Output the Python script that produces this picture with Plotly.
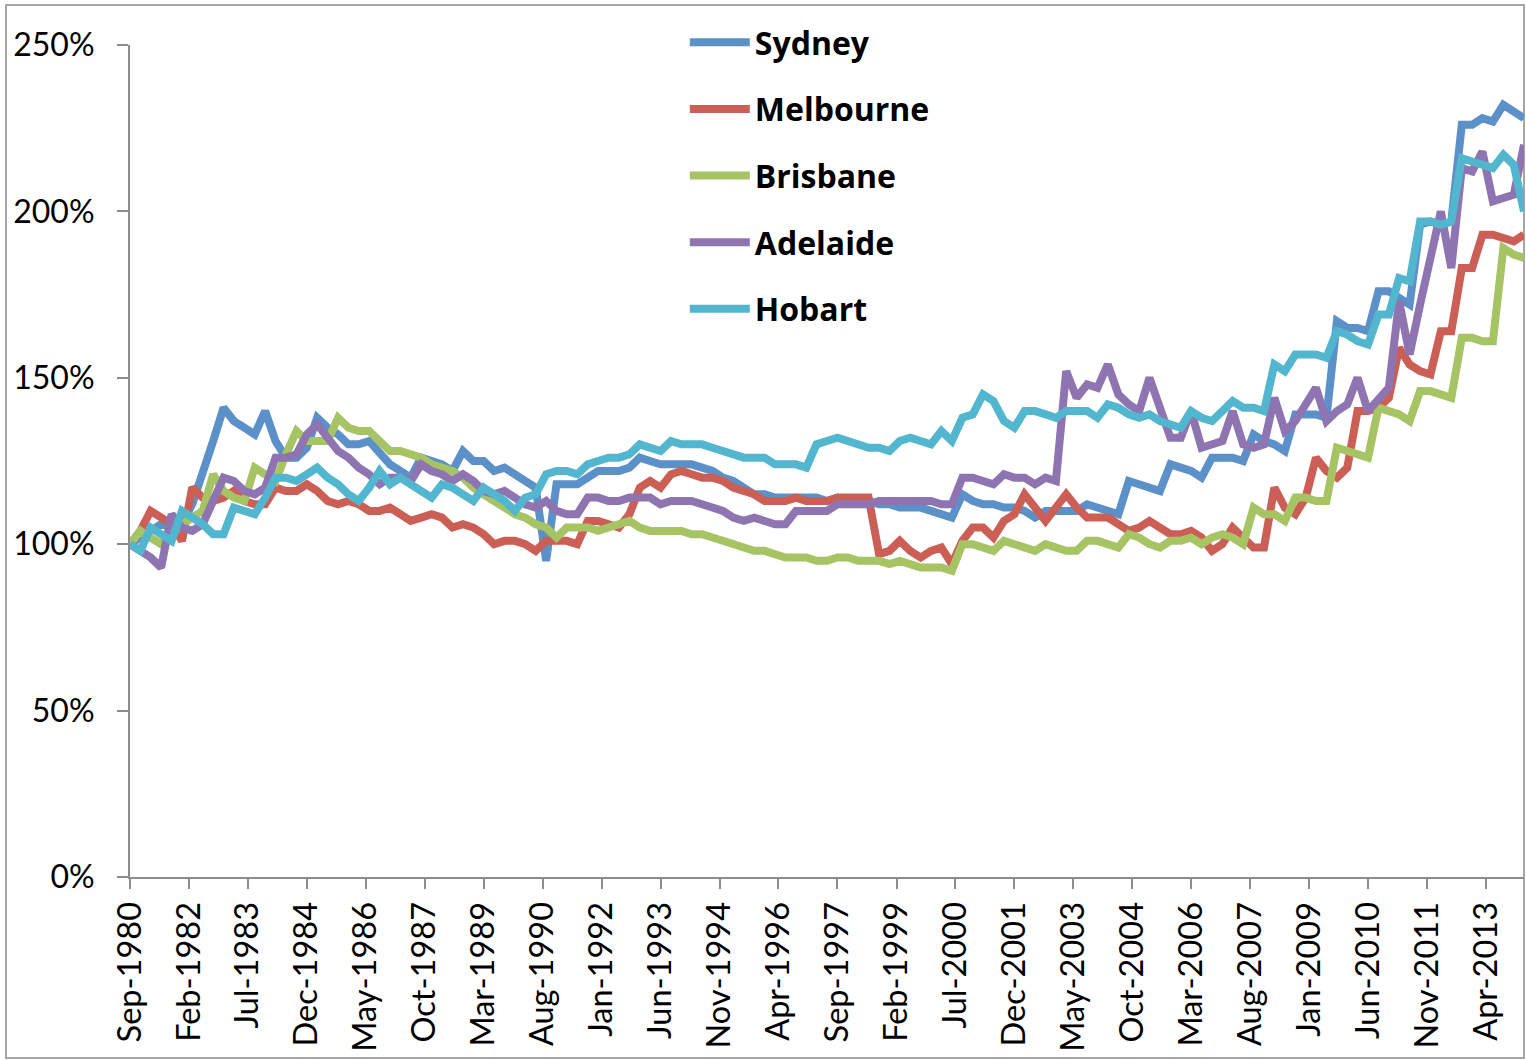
import pandas as pd
import plotly.graph_objects as go

# ---- data (index level, % of Sep-1980), quarterly Sep-1980 .. Mar-2014 ----
start_quarter = "1980-09-01"

sydney = [100, 102, 104, 106, 105, 106, 112, 121, 131, 141, 137, 135, 133, 140, 131, 126, 126, 129, 138, 135,
          133, 130, 130, 131, 127, 124, 122, 120, 126, 125, 124, 122, 128, 125, 125, 122, 123, 121, 119, 117,
          95, 118, 118, 118, 120, 122, 122, 122, 123, 126, 125, 124, 124, 124, 124, 123, 122, 120, 119, 117,
          115, 115, 114, 114, 114, 114, 114, 113, 114, 113, 113, 113, 112, 112, 111, 111, 111, 110, 109, 108,
          115, 113, 112, 112, 111, 111, 110, 108, 110, 110, 110, 110, 112, 111, 110, 109, 119, 118, 117, 116,
          124, 123, 122, 120, 126, 126, 126, 125, 133, 131, 130, 128, 139, 139, 139, 138, 167, 165, 165, 164,
          176, 176, 174, 172, 196, 197, 196, 197, 226, 226, 228, 227, 232, 230, 228]

melbourne = [100, 104, 110, 108, 106, 101, 117, 114, 113, 114, 116, 113, 112, 112, 117, 116, 116, 118, 116, 113,
             112, 113, 112, 110, 110, 111, 109, 107, 108, 109, 108, 105, 106, 105, 103, 100, 101, 101, 100, 98,
             101, 101, 101, 100, 107, 107, 106, 105, 109, 117, 119, 117, 121, 122, 121, 120, 120, 119, 117, 116,
             115, 113, 113, 113, 114, 113, 113, 113, 114, 114, 114, 114, 97, 98, 101, 98, 96, 98, 99, 94,
             101, 105, 105, 102, 107, 109, 115, 111, 107, 111, 115, 111, 108, 108, 108, 106, 104, 105, 107, 105,
             103, 103, 104, 102, 98, 100, 105, 102, 99, 99, 117, 111, 109, 114, 126, 122, 120, 123, 140, 140,
             141, 144, 159, 154, 152, 151, 164, 164, 183, 183, 193, 193, 192, 191, 193]

brisbane = [100, 104, 102, 100, 103, 106, 108, 110, 121, 116, 114, 113, 123, 121, 119, 127, 134, 131, 131, 131,
            138, 135, 134, 134, 131, 128, 128, 127, 126, 124, 123, 122, 120, 117, 115, 113, 111, 109, 108, 106,
            105, 102, 105, 105, 105, 104, 105, 106, 107, 105, 104, 104, 104, 104, 103, 103, 102, 101, 100, 99,
            98, 98, 97, 96, 96, 96, 95, 95, 96, 96, 95, 95, 95, 94, 95, 94, 93, 93, 93, 92,
            100, 100, 99, 98, 101, 100, 99, 98, 100, 99, 98, 98, 101, 101, 100, 99, 103, 102, 100, 99,
            101, 101, 102, 100, 102, 103, 102, 100, 111, 109, 109, 107, 114, 114, 113, 113, 129, 128, 127, 126,
            141, 140, 139, 137, 146, 146, 145, 144, 162, 162, 161, 161, 189, 187, 186]

adelaide = [100, 98, 96, 93, 109, 105, 104, 106, 113, 120, 119, 116, 115, 117, 126, 126, 127, 133, 136, 132,
            128, 126, 123, 121, 118, 120, 120, 119, 124, 122, 121, 119, 121, 119, 116, 115, 116, 114, 112, 111,
            113, 110, 109, 109, 114, 114, 113, 113, 114, 114, 114, 112, 113, 113, 113, 112, 111, 110, 108, 107,
            108, 107, 106, 106, 110, 110, 110, 110, 112, 112, 112, 112, 113, 113, 113, 113, 113, 113, 112, 112,
            120, 120, 119, 118, 121, 120, 120, 118, 120, 119, 152, 144, 148, 147, 154, 145, 142, 140, 150, 141,
            132, 132, 140, 129, 130, 131, 140, 130, 129, 130, 144, 134, 137, 142, 147, 137, 140, 142, 150, 140,
            144, 147, 173, 157, 172, 185, 200, 183, 213, 212, 218, 203, 204, 205, 220]

hobart = [100, 98, 105, 103, 101, 110, 108, 106, 103, 103, 111, 110, 109, 114, 120, 120, 119, 121, 123, 120,
          118, 115, 113, 117, 122, 118, 120, 118, 116, 114, 118, 117, 115, 113, 117, 115, 113, 110, 114, 115,
          121, 122, 122, 121, 124, 125, 126, 126, 127, 130, 129, 128, 131, 130, 130, 130, 129, 128, 127, 126,
          126, 126, 124, 124, 124, 123, 130, 131, 132, 131, 130, 129, 129, 128, 131, 132, 131, 130, 134, 131,
          138, 139, 145, 143, 137, 135, 140, 140, 139, 138, 140, 140, 140, 138, 142, 141, 139, 138, 139, 137,
          136, 135, 140, 138, 137, 140, 143, 141, 141, 140, 154, 152, 157, 157, 157, 156, 164, 163, 161, 160,
          169, 169, 180, 179, 197, 197, 196, 197, 216, 215, 214, 213, 217, 214, 200]

series_names = ["Sydney", "Melbourne", "Brisbane", "Adelaide", "Hobart"]
series_values = [sydney, melbourne, brisbane, adelaide, hobart]
series_colors = ["#5B90C9", "#CC5F55", "#A7C464", "#8E75B1", "#52B6CF"]

tick_labels = ["Sep-1980", "Feb-1982", "Jul-1983", "Dec-1984", "May-1986", "Oct-1987", "Mar-1989",
               "Aug-1990", "Jan-1992", "Jun-1993", "Nov-1994", "Apr-1996", "Sep-1997", "Feb-1999",
               "Jul-2000", "Dec-2001", "May-2003", "Oct-2004", "Mar-2006", "Aug-2007", "Jan-2009",
               "Jun-2010", "Nov-2011", "Apr-2013"]
y_ticks = [0, 50, 100, 150, 200, 250]
y_tick_labels = ["0%", "50%", "100%", "150%", "200%", "250%"]

# ---- figure ----
dates = pd.date_range(start_quarter, periods=len(sydney), freq="3MS")
tick_vals = pd.to_datetime(tick_labels, format="%b-%Y")

FONT = "Lato, 'Open Sans', sans-serif"
fig = go.Figure()
for name, vals, col in zip(series_names, series_values, series_colors):
    fig.add_trace(go.Scatter(
        x=dates, y=vals, name=name, mode="lines", legendgroup=name,
        line=dict(color=col, width=8, shape="linear"),
    ))

axis_col = "#8C8C8C"
fig.update_layout(
    width=1526, height=1060,
    margin=dict(l=130, r=2, t=45, b=183),
    paper_bgcolor="white", plot_bgcolor="white",
    font=dict(family=FONT, size=31, color="black"),
    showlegend=True,
    legend=dict(
        x=0.398, y=1.036, xanchor="left", yanchor="top",
        font=dict(family="'Open Sans', sans-serif", size=32, color="black", weight="bold"),
        tracegroupgap=22, itemwidth=60, bgcolor="rgba(0,0,0,0)",
    ),
    xaxis=dict(
        type="date", range=[dates[0], dates[-1]],
        tickvals=tick_vals, ticktext=tick_labels, tickangle=-90,
        showgrid=False, zeroline=False,
        showline=True, linecolor=axis_col, linewidth=2,
        ticks="outside", ticklen=10, tickwidth=2, tickcolor=axis_col,
        tickfont=dict(family=FONT, size=32.5, color="black"),
        ticklabelstandoff=0,
    ),
    yaxis=dict(
        range=[0, 250], tickvals=y_ticks, ticktext=y_tick_labels,
        showgrid=False, zeroline=False,
        showline=True, linecolor=axis_col, linewidth=2,
        ticks="outside", ticklen=11, tickwidth=2, tickcolor=axis_col,
        tickfont=dict(family=FONT, size=32, color="black"),
        ticklabelstandoff=16,
    ),
)

# outer chart border
fig.add_shape(type="rect", xref="paper", yref="paper",
              x0=(6 - 130) / 1394, x1=1.0, y0=(877 - 1058) / 832, y1=(877 - 5) / 832,
              line=dict(color="#A6A6A6", width=2), fillcolor="rgba(0,0,0,0)", layer="below")

fig.write_html("out.html", config={"displayModeBar": False},
               post_script="document.body.style.margin='0px';")
